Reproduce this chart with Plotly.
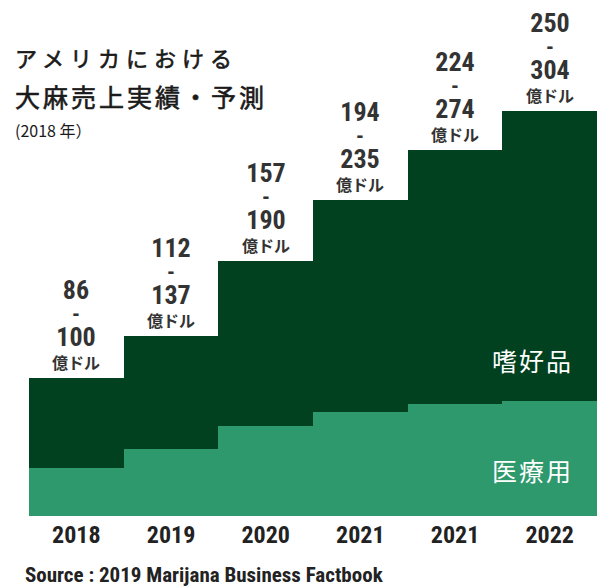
import plotly.graph_objects as go

years = ["2018", "2019", "2020", "2021", "2021", "2022"]
medical = [36, 50, 67.5, 78, 84, 86]
recreational = [67.5, 85, 124, 159, 190.5, 217.5]
low = [86, 112, 157, 194, 224, 250]
high = [100, 137, 190, 235, 274, 304]

W, H = 597, 586
ML, MR, MT, MB = 29, 0, 0, 70
PW, PH = W - ML - MR, H - MT - MB

def px_x(px):
    return (px - ML) / PW

def px_y(py):
    return (H - MB - py) / PH

DARK = "#01411f"
LIGHT = "#2d996c"
NUM_FONT = "Liberation Sans Narrow, Roboto Condensed, DejaVu Sans Condensed, Liberation Sans, sans-serif"
JP_FONT = "Noto Sans CJK JP, sans-serif"

xs = list(range(len(years)))
totals = [m + r for m, r in zip(medical, recreational)]

fig = go.Figure()
fig.add_bar(x=xs, y=medical, marker=dict(color=LIGHT, line=dict(width=0)), name="医療用")
fig.add_bar(x=xs, y=recreational, marker=dict(color=DARK, line=dict(width=0)), name="嗜好品")

ann = []
for i, t in enumerate(totals):
    label = (f"<span style='font-size:26px'>{low[i]}</span><br>"
             f"<span style='font-size:22px'>-</span><br>"
             f"<span style='font-size:26px'>{high[i]}</span><br>"
             f"<span style='font-size:16px;font-family:Noto Sans CJK JP'>億ドル</span>")
    ann.append(dict(text=label, x=i, y=t, xref="x", yref="y", showarrow=False,
                    xanchor="center", yanchor="bottom", yshift=3, borderpad=0,
                    font=dict(family=NUM_FONT, size=18, color="#333333", weight="bold")))

title_lines = [
    ("アメリカにおける", 57, 22, 6),
    ("大麻売上実績・予測", 96, 25, 3),
]
for txt, py, sz, ls in title_lines:
    ann.append(dict(text=f"<span style='letter-spacing:{ls}px;stroke:#1a1a1a;stroke-width:0.6px'>{txt}</span>",
                    x=px_x(14), y=px_y(py), xref="paper", yref="paper",
                    xanchor="left", yanchor="middle", showarrow=False, borderpad=0,
                    font=dict(family=JP_FONT, size=sz, color="#1a1a1a")))
ann.append(dict(text="(2018 年）", x=px_x(14), y=px_y(130), xref="paper", yref="paper",
                xanchor="left", yanchor="middle", showarrow=False, borderpad=0,
                font=dict(family=JP_FONT, size=16, color="#1a1a1a")))

for txt, py in [("嗜好品", 360), ("医療用", 470)]:
    ann.append(dict(text=f"<span style='letter-spacing:2px'>{txt}</span>",
                    x=px_x(532), y=px_y(py), xref="paper", yref="paper",
                    xanchor="center", yanchor="middle", showarrow=False, borderpad=0,
                    font=dict(family=JP_FONT, size=25, color="#ffffff")))

ann.append(dict(text="Source : 2019 Marijana Business Factbook",
                x=px_x(24), y=px_y(575), xref="paper", yref="paper",
                xanchor="left", yanchor="middle", showarrow=False, borderpad=0,
                font=dict(family=NUM_FONT, size=21, color="#222222", weight="bold")))

fig.update_layout(
    width=W, height=H,
    margin=dict(l=ML, r=MR, t=MT, b=MB, pad=0),
    barmode="stack", bargap=0,
    showlegend=False,
    plot_bgcolor="white", paper_bgcolor="white",
    annotations=ann,
    xaxis=dict(range=[-0.5, len(years) - 0.5], tickvals=xs, ticktext=years,
               showgrid=False, zeroline=False, showline=False, ticks="",
               tickfont=dict(family=NUM_FONT, size=24, color="#222222", weight="bold"),
               ticklabelstandoff=2, fixedrange=True),
    yaxis=dict(range=[0, PH / 1.334], visible=False, fixedrange=True),
)

fig.write_html("out.html", config={"displayModeBar": False},
               post_script="document.body.style.margin='0';document.body.style.overflow='hidden';")
